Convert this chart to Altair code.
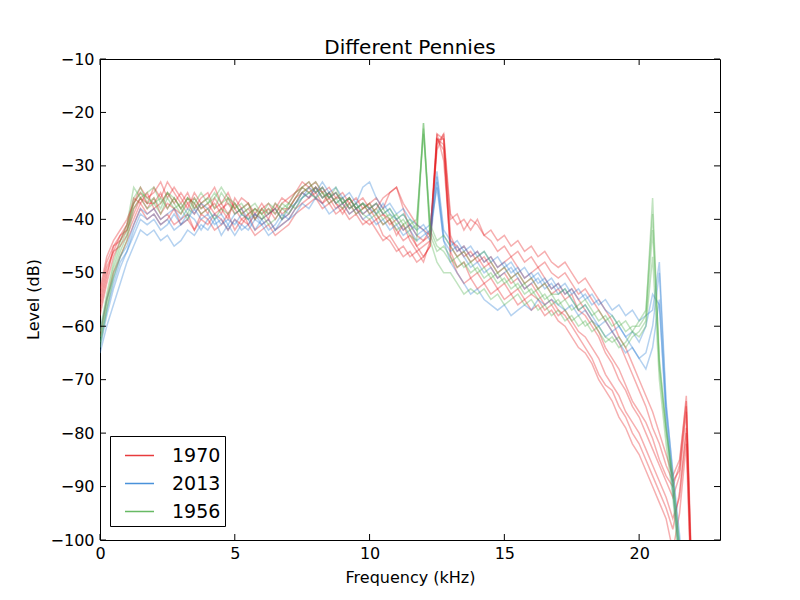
import altair as alt
import pandas as pd

freq = [
    0.0, 0.25, 0.5, 0.75, 1.0, 1.25, 1.5, 1.75, 2.0, 2.25, 2.5, 2.75, 3.0, 3.25, 3.5, 3.75,
    4.0, 4.25, 4.5, 4.75, 5.0, 5.25, 5.5, 5.75, 6.0, 6.25, 6.5, 6.75, 7.0, 7.25, 7.5, 7.75,
    8.0, 8.25, 8.5, 8.75, 9.0, 9.25, 9.5, 9.75, 10.0, 10.25, 10.5, 10.75, 11.0, 11.25, 11.5, 11.75,
    12.0, 12.25, 12.5, 12.75, 13.0, 13.25, 13.5, 13.75, 14.0, 14.25, 14.5, 14.75, 15.0, 15.25, 15.5, 15.75,
    16.0, 16.25, 16.5, 16.75, 17.0, 17.25, 17.5, 17.75, 18.0, 18.25, 18.5, 18.75, 19.0, 19.25, 19.5, 19.75,
    20.0, 20.25, 20.5, 20.75, 21.0, 21.25, 21.5, 21.75, 22.0,
]

red_1 = [
    -54, -48, -45, -44, -41, -37, -35, -37, -34, -36, -33, -35, -37, -35, -38, -36,
    -35, -38, -37, -39, -37, -39, -38, -40, -38, -37, -39, -37, -36, -35, -33, -34,
    -33, -35, -34, -36, -35, -37, -36, -38, -37, -36, -38, -35, -34, -37, -39, -41,
    -42, -43, -24, -25, -40, -39, -42, -40, -41, -43, -42, -44, -43, -45, -44, -46,
    -45, -47, -46, -48, -49, -48, -50, -52, -51, -53, -55, -57, -59, -62, -64, -67,
    -70, -73, -76, -80, -84, -88, -85, -74, -116,
]
red_2 = [
    -56, -50, -46, -45, -43, -40, -37, -39, -38, -40, -39, -41, -40, -39, -42, -40,
    -41, -39, -40, -42, -40, -41, -39, -42, -41, -40, -42, -41, -40, -38, -37, -36,
    -35, -37, -36, -38, -37, -39, -38, -40, -41, -40, -43, -44, -46, -45, -47, -46,
    -48, -44, -25, -26, -46, -49, -48, -51, -50, -52, -51, -53, -52, -54, -53, -55,
    -54, -55, -57, -56, -58, -57, -59, -61, -62, -64, -66, -69, -71, -73, -76, -78,
    -80, -83, -86, -89, -92, -96, -92, -80, -118,
]
red_3 = [
    -58, -52, -47, -44, -42, -38, -36, -38, -36, -39, -37, -38, -39, -37, -36, -38,
    -37, -39, -38, -37, -39, -38, -41, -39, -40, -39, -38, -40, -39, -37, -35, -36,
    -34, -36, -35, -37, -38, -36, -38, -39, -38, -40, -39, -41, -40, -42, -41, -43,
    -44, -43, -24, -29, -45, -47, -46, -48, -47, -49, -48, -50, -49, -51, -50, -52,
    -51, -53, -52, -54, -53, -55, -54, -57, -58, -60, -62, -65, -67, -70, -72, -75,
    -77, -80, -83, -86, -89, -92, -88, -76, -115,
]
red_4 = [
    -53, -47, -44, -42, -40, -37, -34, -36, -35, -33, -36, -34, -36, -38, -35, -37,
    -36, -34, -37, -35, -38, -36, -37, -39, -37, -39, -38, -36, -37, -35, -34, -33,
    -35, -34, -36, -35, -37, -36, -38, -37, -39, -38, -36, -35, -34, -38, -42, -45,
    -47, -45, -26, -24, -43, -46, -45, -47, -46, -48, -47, -49, -48, -47, -49, -51,
    -50, -49, -51, -53, -52, -54, -53, -55, -57, -59, -61, -64, -66, -68, -71, -74,
    -76, -78, -81, -85, -88, -90, -86, -73, -114,
]
red_5 = [
    -62, -55, -50, -47, -44, -41, -38, -40, -39, -41, -40, -38, -41, -40, -42, -39,
    -40, -42, -41, -39, -42, -40, -41, -43, -42, -41, -43, -42, -41, -39, -38, -37,
    -36, -38, -37, -39, -38, -40, -39, -41, -40, -42, -44, -43, -45, -47, -46, -48,
    -47, -45, -25, -25, -47, -50, -52, -51, -53, -52, -54, -53, -55, -54, -56, -55,
    -57, -56, -58, -57, -59, -60, -62, -64, -65, -67, -70, -72, -74, -77, -79, -82,
    -84, -87, -90, -93, -96, -102, -95, -82, -120,
]
red_6 = [
    -55, -49, -46, -43, -42, -39, -36, -37, -37, -35, -38, -36, -38, -36, -37, -39,
    -38, -37, -39, -36, -38, -40, -39, -38, -39, -38, -40, -38, -38, -36, -34, -35,
    -34, -35, -37, -36, -36, -38, -37, -36, -38, -37, -39, -40, -42, -44, -43, -45,
    -44, -42, -27, -24, -39, -41, -40, -42, -40, -43, -44, -46, -45, -47, -46, -48,
    -47, -49, -48, -50, -51, -50, -52, -54, -53, -55, -57, -59, -61, -63, -66, -69,
    -72, -75, -79, -82, -86, -89, -87, -75, -117,
]
red_7 = [
    -57, -51, -45, -43, -41, -36, -37, -35, -38, -37, -35, -37, -35, -37, -39, -37,
    -39, -36, -38, -40, -36, -38, -37, -40, -38, -40, -37, -39, -38, -36, -35, -34,
    -36, -37, -35, -37, -39, -37, -39, -38, -37, -39, -41, -40, -43, -41, -44, -46,
    -45, -44, -25, -27, -44, -45, -47, -46, -48, -47, -49, -51, -50, -52, -51, -53,
    -52, -54, -56, -55, -57, -58, -60, -62, -64, -66, -69, -71, -72, -75, -77, -80,
    -82, -85, -88, -91, -94, -98, -91, -79, -119,
]

blue_1 = [
    -64, -58, -53, -49, -46, -43, -40, -41, -40, -42, -41, -39, -41, -40, -38, -40,
    -39, -41, -40, -42, -40, -42, -41, -39, -41, -40, -42, -40, -39, -37, -36, -34,
    -35, -33, -35, -34, -36, -38, -37, -39, -38, -37, -39, -38, -40, -39, -41, -42,
    -41, -43, -32, -43, -45, -44, -46, -45, -47, -46, -48, -47, -49, -48, -50, -49,
    -51, -50, -52, -51, -53, -52, -54, -53, -55, -54, -56, -55, -57, -56, -58, -57,
    -59, -58, -57, -48, -74, -88, -101, -116, -130,
]
blue_2 = [
    -65, -60, -56, -52, -48, -45, -42, -43, -42, -44, -43, -45, -44, -42, -43, -41,
    -42, -40, -43, -41, -43, -41, -42, -40, -41, -43, -42, -41, -40, -39, -37, -38,
    -36, -37, -39, -38, -37, -39, -38, -40, -39, -41, -40, -42, -41, -43, -42, -44,
    -43, -42, -34, -44, -48, -50, -52, -54, -53, -55, -56, -57, -56, -58, -57, -56,
    -57, -55, -56, -55, -56, -57, -56, -58, -57, -59, -60, -59, -61, -60, -62, -61,
    -63, -60, -54, -56, -76, -90, -104, -118, -130,
]
blue_3 = [
    -61, -55, -51, -47, -45, -41, -38, -39, -38, -40, -39, -38, -40, -38, -39, -37,
    -38, -40, -39, -41, -39, -38, -40, -39, -40, -39, -38, -40, -38, -37, -35, -36,
    -34, -36, -35, -37, -36, -35, -37, -34, -33, -36, -38, -37, -39, -38, -40, -41,
    -42, -41, -31, -42, -44, -46, -45, -47, -46, -48, -47, -49, -48, -50, -49, -51,
    -50, -52, -51, -53, -52, -54, -53, -55, -54, -56, -55, -57, -58, -60, -62, -64,
    -66, -65, -60, -50, -75, -87, -99, -114, -128,
]
blue_4 = [
    -63, -57, -52, -48, -46, -42, -39, -40, -39, -41, -40, -42, -41, -39, -40, -42,
    -40, -39, -41, -40, -41, -39, -40, -42, -40, -42, -41, -39, -40, -38, -36, -35,
    -36, -34, -36, -35, -37, -36, -38, -37, -38, -39, -37, -39, -40, -42, -41, -43,
    -42, -44, -33, -44, -46, -45, -47, -49, -48, -50, -49, -51, -50, -49, -51, -53,
    -52, -51, -53, -52, -54, -53, -55, -57, -56, -58, -60, -62, -61, -63, -65, -64,
    -66, -68, -64, -55, -78, -91, -103, -117, -130,
]

green_1 = [
    -63, -56, -50, -46, -43, -36, -34, -37, -36, -38, -35, -37, -39, -36, -38, -37,
    -36, -38, -35, -37, -38, -37, -39, -38, -40, -38, -39, -37, -38, -36, -34, -35,
    -36, -35, -37, -36, -38, -37, -39, -38, -37, -39, -38, -40, -39, -41, -40, -42,
    -22, -42, -45, -46, -48, -47, -49, -48, -50, -49, -51, -50, -52, -51, -53, -52,
    -54, -53, -55, -54, -56, -55, -57, -56, -55, -57, -59, -58, -60, -59, -61, -60,
    -60, -58, -36, -68, -80, -90, -104, -120, -132,
]
green_2 = [
    -62, -55, -49, -45, -42, -37, -35, -36, -37, -39, -36, -38, -37, -39, -36, -38,
    -37, -35, -37, -36, -39, -38, -37, -40, -38, -39, -37, -38, -39, -37, -35, -34,
    -33, -35, -36, -34, -37, -36, -38, -37, -39, -38, -40, -39, -41, -40, -42, -41,
    -23, -43, -46, -45, -47, -49, -48, -50, -49, -51, -50, -52, -51, -53, -52, -54,
    -53, -55, -54, -56, -55, -57, -59, -58, -60, -59, -61, -63, -62, -64, -63, -61,
    -62, -60, -47, -70, -82, -92, -106, -122, -134,
]
green_3 = [
    -64, -57, -51, -47, -44, -38, -36, -38, -37, -36, -38, -36, -38, -40, -37, -39,
    -38, -40, -38, -39, -37, -39, -40, -38, -39, -41, -40, -38, -37, -38, -36, -35,
    -34, -36, -35, -37, -36, -38, -37, -39, -40, -39, -41, -40, -42, -41, -43, -44,
    -22, -44, -48, -50, -50, -52, -54, -53, -54, -53, -55, -54, -56, -55, -54, -56,
    -55, -57, -56, -58, -57, -59, -58, -60, -59, -61, -60, -62, -63, -62, -64, -62,
    -61, -59, -42, -67, -79, -89, -102, -118, -130,
]
green_4 = [
    -61, -54, -48, -44, -41, -34, -36, -35, -34, -37, -35, -36, -38, -36, -37, -35,
    -37, -36, -34, -36, -37, -39, -38, -37, -39, -37, -38, -40, -37, -35, -34, -33,
    -35, -34, -36, -35, -37, -36, -38, -37, -38, -37, -39, -38, -40, -39, -41, -40,
    -24, -41, -44, -43, -45, -47, -46, -48, -47, -46, -48, -50, -49, -51, -50, -52,
    -51, -53, -52, -54, -54, -53, -55, -57, -56, -58, -57, -59, -58, -60, -59, -61,
    -59, -57, -39, -66, -79, -88, -101, -117, -131,
]

years = ["1970", "2013", "1956"]
colors = ["#e41a1c", "#2a7fd4", "#4daf4a"]
x_ticks = [0, 5, 10, 15, 20]
y_ticks = [-100, -90, -80, -70, -60, -50, -40, -30, -20, -10]

series = [
    ("1970", "red_1", red_1), ("1970", "red_2", red_2), ("1970", "red_3", red_3),
    ("1970", "red_4", red_4), ("1970", "red_5", red_5), ("1970", "red_6", red_6),
    ("1970", "red_7", red_7),
    ("2013", "blue_1", blue_1), ("2013", "blue_2", blue_2), ("2013", "blue_3", blue_3),
    ("2013", "blue_4", blue_4),
    ("1956", "green_1", green_1), ("1956", "green_2", green_2), ("1956", "green_3", green_3),
    ("1956", "green_4", green_4),
]

rows = []
for year, sid, vals in series:
    assert len(vals) == len(freq), sid
    for f, v in zip(freq, vals):
        rows.append({"freq": f, "level": v, "year": year, "sid": sid})
df = pd.DataFrame(rows)

W, H = 620, 481
xs = alt.Scale(domain=[0, 23], nice=False, zero=False)
ys = alt.Scale(domain=[-100, -10], nice=False, zero=False)

xaxis = alt.Axis(values=x_ticks, ticks=False, domain=False, grid=False, labelFlush=False,
                 labelFontSize=16, labelPadding=5, title="Frequency (kHz)", titleFontSize=16,
                 titleFontWeight="normal", titleY=42, titleBaseline="alphabetic")
yaxis = alt.Axis(values=y_ticks, ticks=False, domain=False, grid=False, labelFlush=False,
                 labelFontSize=16, labelPadding=6, title="Level (dB)", titleFontSize=16,
                 titleFontWeight="normal", titleX=-62, titleY=240, titleAngle=270,
                 titleBaseline="alphabetic", titleAlign="center")

lines = alt.Chart(df).mark_line(strokeWidth=1.5, opacity=0.35, clip=True).encode(
    x=alt.X("freq:Q", scale=xs, axis=xaxis),
    y=alt.Y("level:Q", scale=ys, axis=yaxis),
    color=alt.Color("year:N", scale=alt.Scale(domain=years, range=colors),
                    sort=years,
                    legend=alt.Legend(title=None, orient="none", legendX=10, legendY=377,
                                      strokeColor="black", fillColor="white", padding=4,
                                      symbolType="stroke", symbolSize=841, symbolStrokeWidth=1.5,
                                      symbolOpacity=0.85, symbolOffset=10, labelOffset=17,
                                      labelFontSize=19, labelColor="black", rowPadding=2)),
    detail="sid:N",
)

xt = pd.DataFrame({"freq": x_ticks})
yt = pd.DataFrame({"level": y_ticks})

bottom = alt.Chart(xt).mark_rule(color="black", strokeWidth=1).encode(
    x=alt.X("freq:Q", scale=xs, axis=xaxis), y=alt.value(H), y2=alt.value(H - 6))
top = alt.Chart(xt).mark_rule(color="black", strokeWidth=1).encode(
    x=alt.X("freq:Q", scale=xs, axis=xaxis), y=alt.value(0), y2=alt.value(6))
left = alt.Chart(yt).mark_rule(color="black", strokeWidth=1).encode(
    y=alt.Y("level:Q", scale=ys, axis=yaxis), x=alt.value(0), x2=alt.value(6))
right = alt.Chart(yt).mark_rule(color="black", strokeWidth=1).encode(
    y=alt.Y("level:Q", scale=ys, axis=yaxis), x=alt.value(W), x2=alt.value(W - 6))

chart = alt.layer(lines, bottom, top, left, right).properties(
    width=W, height=H,
    title=alt.TitleParams("Different Pennies", fontSize=20, fontWeight="normal", offset=2, dy=9),
    autosize=alt.AutoSizeParams(type="none"),
    padding={"left": 92, "top": 51, "right": 72, "bottom": 52},
).configure(font="DejaVu Sans").configure_view(
    stroke="black", strokeWidth=1
).configure_axis(labelColor="black", titleColor="black").configure_title(color="black")

chart.save("out.html", embed_options={"renderer": "svg", "actions": False})
